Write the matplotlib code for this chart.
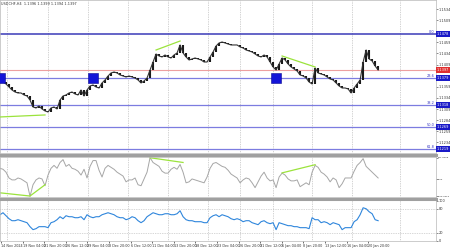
import matplotlib.pyplot as plt
from matplotlib.lines import Line2D
from matplotlib.transforms import blended_transform_factory
import numpy as np

# H4 chart with CCI and RSI sub-windows
title = "USDCHF,H4  1.1396 1.1399 1.1394 1.1397"

closes = [1.13743, 1.13698, 1.13653, 1.13586, 1.13518, 1.13473, 1.13451, 1.13451, 1.13406, 1.13383,
          1.13293, 1.13136, 1.13113, 1.13158, 1.13091, 1.13046, 1.13023, 1.13113, 1.13136, 1.13091,
          1.13293, 1.13383, 1.13406, 1.13451, 1.13473, 1.13428, 1.13406, 1.13518, 1.13383, 1.13518,
          1.13608, 1.13631, 1.13586, 1.13563, 1.13676, 1.13743, 1.13833, 1.13901, 1.13923, 1.13901,
          1.13856, 1.13833, 1.13811, 1.13833, 1.13811, 1.13788, 1.13743, 1.13676, 1.13721, 1.13788,
          1.13968, 1.14148, 1.14328, 1.14283, 1.14261, 1.14306, 1.14261, 1.14238, 1.14306, 1.14351,
          1.14531, 1.14351, 1.14261, 1.14193, 1.14216, 1.14238, 1.14216, 1.14193, 1.14148, 1.14148,
          1.14261, 1.14373, 1.14508, 1.14576, 1.14598, 1.14576, 1.14553, 1.14531, 1.14531, 1.14531,
          1.14486, 1.14463, 1.14418, 1.14396, 1.14373, 1.14328, 1.14283, 1.14261, 1.14306, 1.14261,
          1.14148, 1.14036, 1.13968, 1.14103, 1.14238, 1.14193, 1.14103, 1.14036, 1.13991, 1.13946,
          1.13856, 1.13833, 1.13788, 1.13698, 1.13653, 1.14013, 1.13901, 1.13878, 1.13856, 1.13811,
          1.13766, 1.13743, 1.13676, 1.13608, 1.13563, 1.13563, 1.13541, 1.13451, 1.13563, 1.13653,
          1.13743, 1.14148, 1.14418, 1.14216, 1.14171, 1.14058, 1.13968]

cci = [102.6, 93.6, 66.5, 12.4, -5.6, -5.6, 12.4, 3.4, -14.6, -32.7,
       -159.0, -50.7, -5.6, 12.4, 3.4, -59.8, 39.5, 102.6, 129.7, 102.6,
       156.7, 183.8, 120.7, 138.7, 102.6, 93.6, 75.5, 39.5, 93.6, 12.4,
       120.7, 174.8, 174.8, 84.6, 21.4, 102.6, 129.7, 111.6, 93.6, 66.5,
       48.5, 30.4, -23.7, -5.6, -5.6, 12.4, -50.7, -59.8, 3.4, 66.5,
       201.8, 156.7, 138.7, 120.7, 75.5, 57.5, 57.5, 93.6, 111.6, 93.6,
       138.7, 66.5, -32.7, -23.7, 3.4, -5.6, -14.6, -23.7, -32.7, 21.4,
       102.6, 147.7, 156.7, 138.7, 120.7, 111.6, 84.6, 48.5, 30.4, 12.4,
       -32.7, -5.6, 12.4, 3.4, -32.7, -77.8, -23.7, 30.4, 66.5, 12.4,
       -14.6, -5.6, -77.8, 21.4, 57.5, 39.5, 3.4, -14.6, -14.6, -5.6,
       -68.8, -50.7, -32.7, -50.7, 66.5, 129.7, 111.6, 66.5, 48.5, 21.4,
       -23.7, 12.4, -5.6, -77.8, -41.7, 12.4, 12.4, 12.4, 75.5, 129.7,
       156.7, 192.8, 120.7, 93.6, 66.5, 39.5, 12.4]

rsi = [65, 70, 62.5, 55, 50, 50, 52.5, 50, 47.5, 45,
       35, 27.5, 30, 35, 35, 35, 32.5, 45, 47.5, 52.5,
       60, 55, 62.5, 60, 60, 57.5, 57.5, 60, 52.5, 65,
       60, 57.5, 60, 60, 65, 67.5, 70, 67.5, 65, 60,
       57.5, 57.5, 52.5, 55, 60, 57.5, 50, 45, 50, 60,
       65, 70, 67.5, 65, 65, 67.5, 67.5, 65, 65, 67.5,
       75, 60, 52.5, 50, 50, 47.5, 47.5, 47.5, 45, 45,
       57.5, 62.5, 65, 60, 65, 62.5, 60, 55, 52.5, 55,
       52.5, 47.5, 50, 50, 45, 42.5, 40, 47.5, 50, 45,
       42.5, 45, 27.5, 45, 42.5, 40, 37.5, 37.5, 35, 35,
       32.5, 32.5, 32.5, 30, 57.5, 52.5, 52.5, 45, 47.5, 45,
       40, 45, 42.5, 40, 27.5, 32.5, 32.5, 32.5, 47.5, 52.5,
       65, 82.5, 80, 72.5, 67.5, 52.5, 50]

time_labels = ["14 Nov 2024", "19 Nov 04:00", "21 Nov 20:00", "26 Nov 12:00", "29 Nov 04:00",
               "3 Dec 20:00", "6 Dec 12:00", "11 Dec 04:00", "13 Dec 20:00", "18 Dec 12:00",
               "23 Dec 04:00", "26 Dec 20:00", "31 Dec 12:00", "6 Jan 04:00", "8 Jan 20:00",
               "13 Jan 12:00", "16 Jan 04:00", "20 Jan 20:00"]

price_ticks = [1.1534, 1.1509, 1.1484, 1.1459, 1.1434, 1.1409, 1.1384, 1.1359,
               1.1334, 1.1309, 1.1284, 1.1259, 1.1234]

fib_high = 1.1478
fib_low = 1.1059
fib_ratios = [0.0, 23.6, 38.2, 50.0, 61.8]

signal_bars = [0, 31, 92]

# divergence lines (bar, value) pairs
div_price = [[(0, 1.12911), (15, 1.12956)],
             [(52, 1.14418), (60, 1.14620)],
             [(94, 1.14283), (105, 1.14036)]]
div_cci = [[(0, -126), (10, -156), (15, -51)],
           [(50, 201), (61, 157)],
           [(94, 60), (105, 136)]]

cci_ticks = [201.8258, 0.0, -159.0316]
cci_labels = ["201.8258", "0.00", "-159.0316"]
rsi_ticks = [100, 80, 20, 0]

week_lines = [2.3, 16, 29.3, 42.7, 56, 69.3, 80, 91, 104, 117.3, 133.3]

fig = plt.figure(figsize=(4.5, 2.5), dpi=100)
W = 0.969
ax_p = fig.add_axes([0, 0.388, W, 0.612])
ax_c = fig.add_axes([0, 0.212, W, 0.160])
ax_r = fig.add_axes([0, 0.036, W, 0.164])

FS = 2.5
for ax in (ax_p, ax_c, ax_r):
    ax.set_xlim(0, 145.3)
    ax.yaxis.tick_right()
    ax.tick_params(axis='y', length=1.2, width=0.4, pad=0.8, labelsize=FS, colors='#333333')
    for s in ax.spines.values():
        s.set_color('#b8b8b8')
        s.set_linewidth(0.5)
    for wx in week_lines:
        ax.axvline(wx, color='#a8a8a8', lw=0.5, ls=(0, (1, 1.5)), zorder=0)
    ax.set_xticks([])

# --- price window ---
fib_levels = [fib_high - (fib_high - fib_low) * r / 100 for r in fib_ratios]
last = closes[-1]
boxed = fib_levels + [last]
# scale labels hidden behind the coloured price boxes
shown = [t for t in price_ticks if min(abs(t - b) for b in boxed) > 0.0008]
ax_p.set_ylim(1.12100, 1.15543)
ax_p.set_yticks(shown)
ax_p.set_yticklabels([f"{v:.4f}" for v in shown])

idx = np.arange(len(closes))
opens = [closes[0]] + closes[:-1]
ax_p.vlines(idx, np.minimum(opens, closes), np.maximum(opens, closes), color='#1a1a1a', lw=1.5, zorder=3)
ax_p.plot(idx, closes, color='#333333', lw=0.8, zorder=3)

trans_p = blended_transform_factory(ax_p.transAxes, ax_p.transData)
for r, lvl in zip(fib_ratios, fib_levels):
    if r == 0:
        ax_p.axhline(lvl, color='#3a3ab8', lw=1.1, zorder=2)
    else:
        ax_p.axhline(lvl, color='#7c7ce0', lw=0.9, zorder=2)
    ax_p.text(0.997, lvl, f"{r:.1f}", transform=trans_p, ha='right', va='bottom',
              fontsize=2.5, color='#3030c0')
    ax_p.text(1.002, lvl, f"{lvl:.4f}", transform=trans_p, ha='left', va='center',
              fontsize=FS, color='white', clip_on=False, zorder=6,
              bbox=dict(boxstyle='square,pad=0.25', fc='#1a1ac8', ec='none'))

ax_p.axhline(last, color='#eda0a0', lw=0.8, zorder=2)
ax_p.text(1.002, last, f"{last:.4f}", transform=trans_p, ha='left', va='center',
          fontsize=FS, color='white', clip_on=False, zorder=6,
          bbox=dict(boxstyle='square,pad=0.25', fc='#e03030', ec='none'))

sig_level = fib_levels[1]
ax_p.scatter(signal_bars, [sig_level] * len(signal_bars), marker='s', s=60,
             color='#1414d8', edgecolor='#0a0a90', linewidth=0.4, zorder=5, clip_on=True)

for seg in div_price:
    xs, ys = zip(*seg)
    ax_p.plot(xs, ys, color='#9be33c', lw=0.9, zorder=4)

ax_p.text(0.003, 0.99, title, transform=ax_p.transAxes, ha='left', va='top',
          fontsize=2.5, color='#333333')

# --- CCI window ---
ax_c.set_ylim(-165, 208)
ax_c.plot(idx, cci, color='#a6a6a6', lw=0.7)
for seg in div_cci:
    xs, ys = zip(*seg)
    ax_c.plot(xs, ys, color='#9be33c', lw=0.9)
ax_c.set_yticks(cci_ticks)
ax_c.set_yticklabels(cci_labels)
ax_c.tick_params(axis='y', labelsize=1.75, pad=0.4)

# --- RSI window ---
ax_r.set_ylim(-1, 102)
ax_r.plot(idx, rsi, color='#2f86dc', lw=0.8)
for lv in (80, 20):
    ax_r.axhline(lv, color='#b0b0b0', lw=0.5, ls=(0, (1, 1.5)), zorder=0)
ax_r.set_yticks(rsi_ticks)
ax_r.set_yticklabels([str(v) for v in rsi_ticks])

pos = np.linspace(0.3, 122.7, len(time_labels))
ax_r.set_xticks(pos)
ax_r.set_xticklabels(time_labels, fontsize=2.4, color='#333333', ha='left')
ax_r.tick_params(axis='x', length=1.2, width=0.4, pad=0.8)

# thick window separators
for yy in (0.380, 0.206):
    fig.add_artist(Line2D([0, W], [yy, yy], transform=fig.transFigure, color='#a0a0a0', lw=2.2))

fig.savefig('out.png', dpi=100)
